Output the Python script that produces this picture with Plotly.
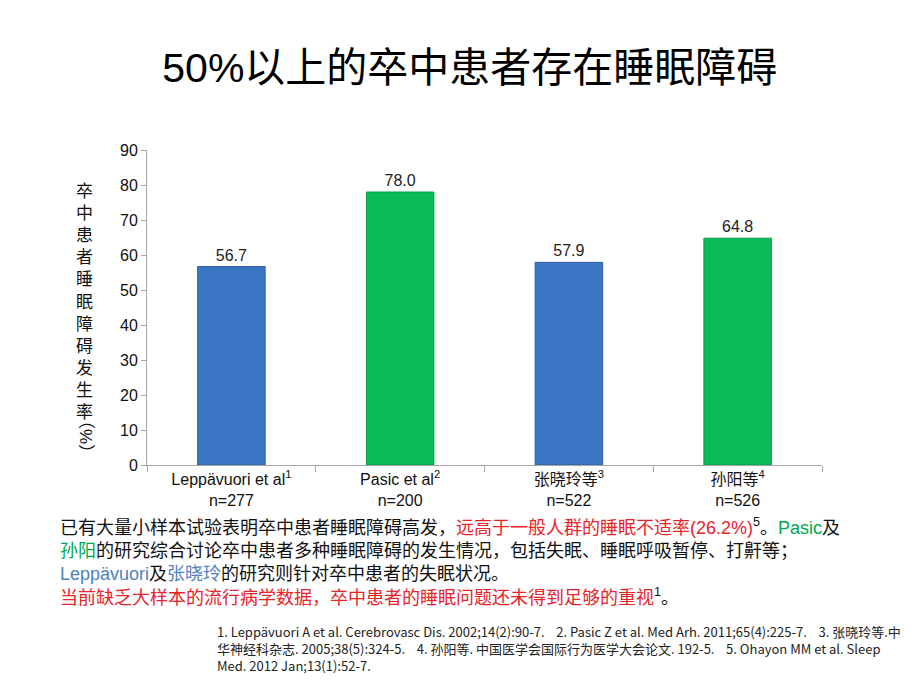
import plotly.graph_objects as go

categories = ["Leppävuori et al<sup>1</sup><br>n=277", "Pasic et al<sup>2</sup><br>n=200",
              "张晓玲等<sup>3</sup><br>n=522", "孙阳等<sup>4</sup><br>n=526"]
values = [56.7, 78.0, 57.9, 64.8]
bar_colors = ["#3b76c4", "#0bba58", "#3b76c4", "#0bba58"]
line_colors = ["#2d5e9e", "#08a04a", "#2d5e9e", "#08a04a"]
y_ticks = [0, 10, 20, 30, 40, 50, 60, 70, 80, 90]
ref_lines = [
    "1. Leppävuori A et al. Cerebrovasc Dis. 2002;14(2):90-7.    2. Pasic Z et al. Med Arh. 2011;65(4):225-7.    3. 张晓玲等.中",
    "华神经科杂志. 2005;38(5):324-5.    4. 孙阳等. 中国医学会国际行为医学大会论文. 192-5.    5. Ohayon MM et al. Sleep",
    "Med. 2012 Jan;13(1):52-7.",
]

FONT = "Liberation Sans, Arial, Noto Sans CJK SC, sans-serif"
RED = "#e8232a"
GREEN = "#00a84f"
BLUE = "#4f81bd"

fig = go.Figure()
fig.add_trace(go.Bar(
    x=categories, y=values, width=0.4,
    marker=dict(color=bar_colors, line=dict(color=line_colors, width=1)),
    text=[f"{v:.1f}" for v in values], textposition="outside",
    textfont=dict(size=16, color="#222222", family=FONT),
    cliponaxis=False,
))

fig.update_layout(
    width=920, height=690,
    margin=dict(l=139, r=106, t=142, b=233),
    plot_bgcolor="white", paper_bgcolor="white",
    showlegend=False,
    font=dict(family=FONT, color="#111111"),
    title=dict(text="50%以上的卒中患者存在睡眠障碍", x=0.502, xanchor="center", y=0.913, yanchor="middle",
               font=dict(size=41, color="#000000", family=FONT)),
    bargap=0.6,
)
fig.update_yaxes(range=[0, 90], tickvals=y_ticks, showgrid=False, showline=True, linecolor="#a6a6a6",
                 ticks="outside", ticklen=5, tickcolor="#a6a6a6", tickfont=dict(size=16, color="#111111"),
                 zeroline=False)
fig.update_xaxes(showline=True, linecolor="#a6a6a6", ticks="outside", ticklen=6, tickcolor="#a6a6a6",
                 tickson="boundaries", tickfont=dict(size=16, color="#111111"))

# vertical y-axis title
fig.add_annotation(xref="paper", yref="paper", x=-0.092, y=0.905, xanchor="center", yanchor="top",
                   text="<br>".join(list("卒中患者睡眠障碍发生率")), showarrow=False,
                   font=dict(size=17, color="#111111", family=FONT))
fig.add_annotation(xref="paper", yref="paper", x=-0.092, y=0.089, xanchor="center", yanchor="middle",
                   text="（%）", textangle=90, showarrow=False,
                   font=dict(size=17, color="#111111", family=FONT))

body = (
    "已有大量小样本试验表明卒中患者睡眠障碍高发，"
    f"<span style='color:{RED}'>远高于一般人群的睡眠不适率(26.2%)</span><sup>5</sup>。"
    f"<span style='color:{GREEN}'>Pasic</span>及<br>"
    f"<span style='color:{GREEN}'>孙阳</span>的研究综合讨论卒中患者多种睡眠障碍的发生情况，包括失眠、睡眠呼吸暂停、打鼾等；<br>"
    f"<span style='color:{BLUE}'>Leppävuori</span>及<span style='color:{BLUE}'>张晓玲</span>的研究则针对卒中患者的失眠状况。<br>"
    f"<span style='color:{RED}'>当前缺乏大样本的流行病学数据，卒中患者的睡眠问题还未得到足够的重视</span><sup>1</sup>。"
)
fig.add_annotation(xref="paper", yref="paper", x=-0.132, y=-0.152,
                   xanchor="left", yanchor="top", align="left", text=body, showarrow=False,
                   font=dict(size=18, color="#111111", family=FONT))

for i, line in enumerate(ref_lines):
    fig.add_annotation(xref="paper", yref="paper", x=0.102, y=-0.528 - i * 17 / 315,
                       xanchor="left", yanchor="middle", align="left", text=line, showarrow=False,
                       borderpad=0,
                       font=dict(size=13, color="#222222",
                                 family="Liberation Sans Narrow, Arial Narrow, Noto Sans CJK SC, sans-serif"))

fig.write_html("out.html")
